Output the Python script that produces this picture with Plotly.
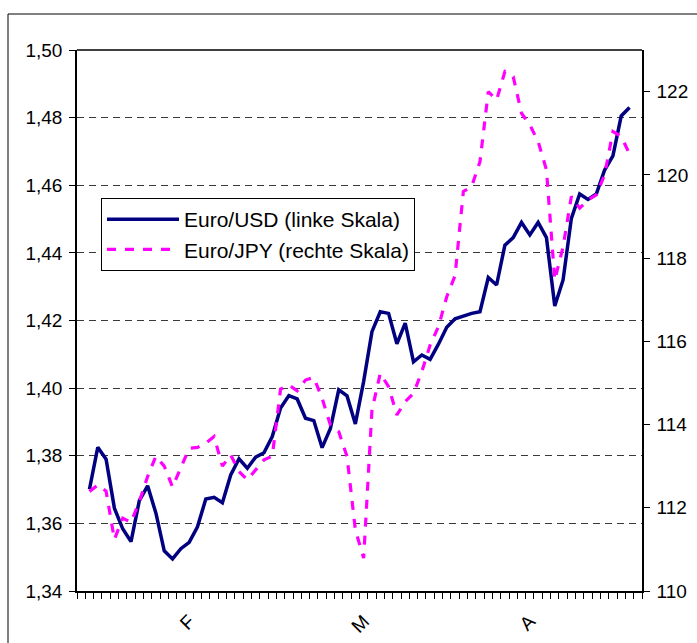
import plotly.graph_objects as go

# Daily fixings: Euro in US-Dollar (left scale) and in Yen (right scale)
usd = [1.3701, 1.3825, 1.3790, 1.3645, 1.3584, 1.3546, 1.3667, 1.3711, 1.3630, 1.3519,
       1.3495, 1.3525, 1.3544, 1.3590, 1.3672, 1.3677, 1.3661, 1.3743, 1.3791, 1.3763,
       1.3796, 1.3809, 1.3857, 1.3941, 1.3978, 1.3968, 1.3911, 1.3904, 1.3824, 1.3881,
       1.3995, 1.3977, 1.3894, 1.4020, 1.4167, 1.4226, 1.4221, 1.4131, 1.4192, 1.4078,
       1.4098, 1.4085, 1.4130, 1.4180, 1.4205, 1.4214, 1.4221, 1.4226, 1.4327, 1.4305,
       1.4423, 1.4445, 1.4490, 1.4453, 1.4490, 1.4445, 1.4243, 1.4320, 1.4502, 1.4574,
       1.4558, 1.4574, 1.4645, 1.4687, 1.4805, 1.4830]
jpy = [112.39, 112.55, 112.40, 111.24, 111.75, 111.65, 112.15, 112.75, 113.24, 113.00,
       112.50, 112.95, 113.43, 113.45, 113.55, 113.71, 113.00, 113.27, 112.87, 112.67,
       112.91, 113.15, 113.24, 114.85, 114.95, 114.81, 115.07, 115.13, 114.63, 113.99,
       113.83, 113.23, 111.47, 110.79, 114.35, 115.23, 114.91, 114.23, 114.55, 114.75,
       115.27, 115.91, 116.35, 117.07, 117.58, 119.60, 119.72, 120.32, 122.00, 121.80,
       122.48, 122.36, 121.48, 121.20, 120.80, 120.12, 117.47, 118.27, 119.48, 119.20,
       119.40, 119.52, 120.00, 121.04, 120.92, 120.50]

# Category slots: one empty slot before and after the data
n_slots = len(usd) + 2
x = list(range(1, len(usd) + 1))

# Month labels and the slots they sit on
month_labels = ["F", "M", "A"]
month_slots = [13, 34, 54]

left_ticks = [1.34, 1.36, 1.38, 1.40, 1.42, 1.44, 1.46, 1.48, 1.50]
right_ticks = [110, 112, 114, 116, 118, 120, 122]

FONT = "Liberation Sans, Arial, sans-serif"

fig = go.Figure()
fig.add_trace(go.Scatter(
    x=x, y=usd, name="Euro/USD (linke Skala)", mode="lines",
    line=dict(color="#000080", width=3.5), legendgroup="a", yaxis="y"))
fig.add_trace(go.Scatter(
    x=x, y=jpy, name="Euro/JPY (rechte Skala)", mode="lines",
    line=dict(color="#FF00FF", width=3.2, dash="9px,9px"), legendgroup="b", yaxis="y2"))

W, H = 697, 643
L, R, T, B = 77, 55, 50, 52
pw, ph = W - L - R, H - T - B

def px_x(p):
    return (p - L) / pw

def px_y(p):
    return (H - B - p) / ph

fig.update_layout(
    width=W, height=H,
    margin=dict(l=L, r=R, t=T, b=B, pad=0),
    paper_bgcolor="white", plot_bgcolor="white",
    separators=", ",
    font=dict(family=FONT, size=19, color="black"),
    showlegend=True,
    legend=dict(
        x=px_x(101), y=px_y(198), xanchor="left", yanchor="top",
        bgcolor="white", bordercolor="black", borderwidth=1,
        font=dict(family=FONT, size=21, color="black"),
        itemwidth=72, tracegroupgap=6, traceorder="normal",
    ),
    xaxis=dict(
        range=[-0.5, n_slots - 0.5], automargin=False,
        showgrid=False, zeroline=False,
        showline=True, linecolor="black", linewidth=1.5,
        tickmode="array", tickvals=month_slots, ticktext=month_labels,
        ticks="", tickangle=-45, tickfont=dict(size=19), ticklabelstandoff=10,
        minor=dict(tickmode="linear", tick0=-0.5, dtick=1, ticks="outside",
                   ticklen=6, tickcolor="black", tickwidth=1, showgrid=False),
    ),
    yaxis=dict(
        range=[1.34, 1.50], automargin=False,
        tickmode="array", tickvals=left_ticks, tickformat=".2f",
        ticks="outside", ticklen=6, tickcolor="black", tickwidth=1,
        ticklabelstandoff=3,
        showline=True, linecolor="black", linewidth=1.5,
        showgrid=True, gridcolor="#3a3a3a", gridwidth=1, griddash="7px,5px",
        zeroline=False,
    ),
    yaxis2=dict(
        range=[110, 123], automargin=False, overlaying="y", side="right",
        tickmode="array", tickvals=right_ticks,
        ticks="outside", ticklen=6, tickcolor="black", tickwidth=1,
        ticklabelstandoff=3,
        showline=True, linecolor="black", linewidth=1.5,
        showgrid=False, zeroline=False,
    ),
    shapes=[
        # top edge of the plot area
        dict(type="line", xref="paper", yref="paper", x0=0, x1=1, y0=1, y1=1,
             line=dict(color="black", width=1.5)),
        # outer chart frame
        dict(type="rect", xref="paper", yref="paper",
             x0=px_x(8), x1=px_x(705), y0=px_y(660), y1=px_y(14),
             line=dict(color="black", width=1)),
    ],
)

fig.write_html("out.html")
